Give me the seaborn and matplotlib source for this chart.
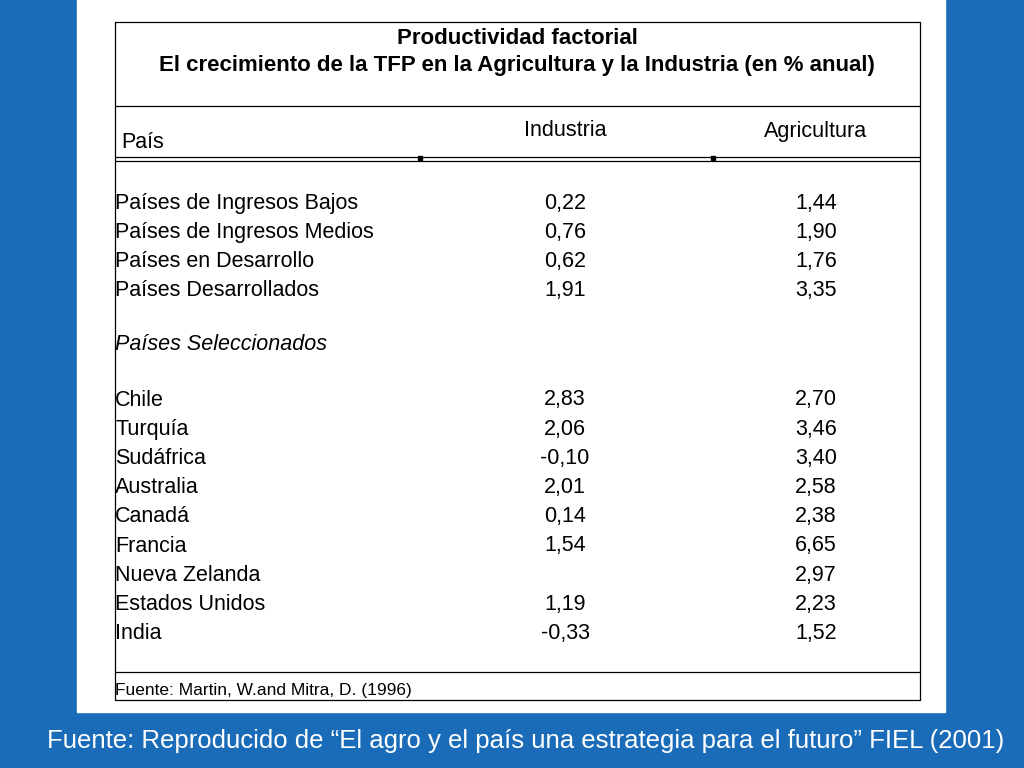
import matplotlib
matplotlib.use("Agg")
import matplotlib.pyplot as plt
import seaborn as sns
from matplotlib.patches import Rectangle

sns.set_theme(style="white", font="Liberation Sans", rc={"text.color": "black"})

title_lines = ["Productividad factorial",
               "El crecimiento de la TFP en la Agricultura y la Industria (en % anual)"]
col_headers = ["País", "Industria", "Agricultura"]
group1 = ["Países de Ingresos Bajos", "Países de Ingresos Medios",
          "Países en Desarrollo", "Países Desarrollados"]
group1_ind = [0.22, 0.76, 0.62, 1.91]
group1_agr = [1.44, 1.90, 1.76, 3.35]
subheader = "Países Seleccionados"
group2 = ["Chile", "Turquía", "Sudáfrica", "Australia", "Canadá", "Francia",
          "Nueva Zelanda", "Estados Unidos", "India"]
group2_ind = [2.83, 2.06, -0.10, 2.01, 0.14, 1.54, None, 1.19, -0.33]
group2_agr = [2.70, 3.46, 3.40, 2.58, 2.38, 6.65, 2.97, 2.23, 1.52]
source = "Fuente: Martin, W.and Mitra, D. (1996)"
caption = "Fuente: Reproducido de “El agro y el país una estrategia para el futuro” FIEL (2001)"

def fmt(v):
    return "" if v is None else f"{v:.2f}".replace(".", ",")

fig = plt.figure(figsize=(10.24, 7.68), dpi=100)
fig.patch.set_facecolor("#1b6cb8")
ax = fig.add_axes([0, 0, 1, 1])
ax.set_xlim(0, 1024); ax.set_ylim(768, 0); ax.axis("off")
ax.add_patch(Rectangle((77, 0), 868, 712, color="white", zorder=0))

k = "black"
for y in [22, 106, 157, 161, 672, 700]:
    ax.plot([115, 920], [y, y], color=k, lw=0.9)
ax.plot([115, 115], [22, 700], color=k, lw=0.9)
ax.plot([920, 920], [22, 700], color=k, lw=0.9)
for x in [420, 713]:
    ax.add_patch(Rectangle((x - 2, 156), 4, 4, color=k))

ax.text(517, 39, title_lines[0], ha="center", va="center", fontsize=16, weight="bold")
ax.text(517, 65, title_lines[1], ha="center", va="center", fontsize=16, weight="bold")
ax.text(121, 143, col_headers[0], ha="left", va="center", fontsize=15.5)
ax.text(565, 131, col_headers[1], ha="center", va="center", fontsize=15.5)
ax.text(816, 131, col_headers[2], ha="center", va="center", fontsize=15.5)

fs = 15.5
step = 29.2
for i, (n, a, b) in enumerate(zip(group1, group1_ind, group1_agr)):
    y = 203 + i * step
    ax.text(115, y, n, ha="left", va="center", fontsize=fs)
    ax.text(565, y, fmt(a), ha="center", va="center", fontsize=fs)
    ax.text(816, y, fmt(b), ha="center", va="center", fontsize=fs)
ax.text(115, 345, subheader, ha="left", va="center", fontsize=fs, style="italic")
for i, (n, a, b) in enumerate(zip(group2, group2_ind, group2_agr)):
    y = 400 + i * step
    ax.text(115, y, n, ha="left", va="center", fontsize=fs)
    ax.text(565, y, fmt(a), ha="center", va="center", fontsize=fs)
    ax.text(816, y, fmt(b), ha="center", va="center", fontsize=fs)

ax.text(115, 690, source, ha="left", va="center", fontsize=12.5)
ax.text(47, 741, caption, ha="left", va="center", fontsize=18.5, color="white")

fig.savefig("out.png", dpi=100, facecolor=fig.get_facecolor())
